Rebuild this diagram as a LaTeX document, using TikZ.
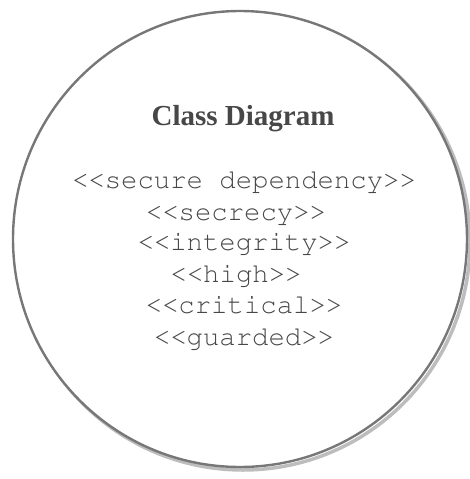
\documentclass[tikz,border=0pt]{standalone}
\usepackage[T1]{fontenc}
\usepackage{fontspec}
\setmainfont{Liberation Serif}
\definecolor{rim}{HTML}{777777}
\definecolor{rimshade}{HTML}{BDBDBD}
\definecolor{ink}{HTML}{474747}
% thin Courier for the stereotype lines
\newcommand{\courierface}{\fontencoding{T1}\fontfamily{pcr}\fontseries{m}\fontshape{n}\selectfont}
\begin{document}
\begin{tikzpicture}[x=1pt,y=-1pt,
  stereo/.style={anchor=base,inner sep=0pt,text=ink,font=\fontsize{27.3}{30}\courierface},
  heading/.style={anchor=base,inner sep=0pt,text=ink,font=\fontsize{29}{32}\selectfont\bfseries}]
\useasboundingbox (0,0) rectangle (470,479);
% soft shadow of the outline, offset to the lower right
\draw[rimshade,line width=3.5pt] (243,242) ellipse [x radius=227, y radius=228];
% the circle itself
\draw[rim,line width=2.4pt,fill=white] (240,239) ellipse [x radius=227, y radius=228];
\node[heading] (title) at (243,125) {Class Diagram};
\node[stereo] (s1) at (244,188) {<{}<secure dependency>{}>};
\node[stereo] (s2) at (236,220) {<{}<secrecy>{}>};
\node[stereo] (s3) at (244,250) {<{}<integrity>{}>};
\node[stereo] (s4) at (236,282) {<{}<high>{}>};
\node[stereo] (s5) at (244,313) {<{}<critical>{}>};
\node[stereo] (s6) at (244,345) {<{}<guarded>{}>};
\end{tikzpicture}
\end{document}
